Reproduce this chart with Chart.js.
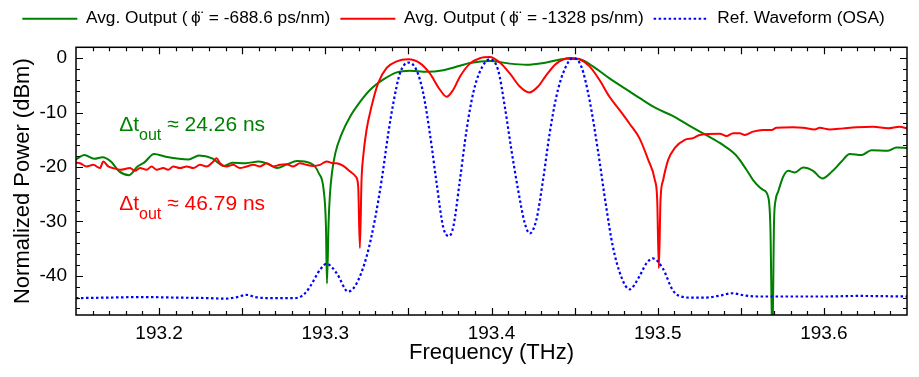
<!DOCTYPE html>
<html lang="en">

<head>
    <meta charset="UTF-8">
    <title>Normalized Power vs Frequency</title>
    <style>
        body { margin: 0; background: #fff; }
        #wrap { width: 919px; height: 377px; }
    </style>
</head>

<body>
    <div id="wrap"><canvas id="chartCanvas" width="919" height="377"></canvas></div>

    <script src="https://cdn.jsdelivr.net/npm/chart.js"></script>
    <script>
        // --- data ---
        const freqGreen = [193.150, 193.155, 193.161, 193.166, 193.171, 193.176, 193.182, 193.187, 193.191, 193.197,
            193.204, 193.212, 193.218, 193.224, 193.232, 193.239, 193.244, 193.252, 193.260, 193.266,
            193.271, 193.277, 193.283, 193.291, 193.294, 193.296, 193.299, 193.3004, 193.301, 193.302,
            193.3028, 193.304, 193.306, 193.310, 193.315, 193.321, 193.327, 193.335, 193.343, 193.351,
            193.361, 193.371, 193.381, 193.387, 193.399, 193.411, 193.421, 193.433, 193.445, 193.453,
            193.461, 193.471, 193.483, 193.489, 193.499, 193.509, 193.519, 193.529, 193.539, 193.547,
            193.5534, 193.5574, 193.5634, 193.5664, 193.5678, 193.569, 193.570, 193.571, 193.5725, 193.5755,
            193.5785, 193.5825, 193.5875, 193.5935, 193.599, 193.605, 193.6106, 193.6156, 193.6226, 193.6286,
            193.6386, 193.6436, 193.650];
        const powerGreen = [-18.6, -17.8, -18.5, -18.2, -19.0, -20.8, -21.5, -19.9, -19.2, -17.6,
            -18.1, -18.5, -18.6, -17.9, -18.4, -19.8, -19.2, -19.3, -19.0, -19.5,
            -20.2, -19.5, -18.9, -19.3, -20.0, -21.1, -24.2, -31.0, -41.4, -30.0,
            -25.0, -21.1, -17.5, -13.8, -10.7, -8.0, -5.8, -3.9, -2.6, -2.3,
            -2.5, -2.2, -1.4, -0.9, -0.5, -1.0, -1.2, -0.8, -0.1, -0.2,
            -1.5, -3.7, -6.1, -7.3, -9.2, -10.6, -12.4, -14.1, -15.9, -17.8,
            -20.5, -22.4, -24.2, -25.4, -31.0, -52.0, -30.0, -26.0, -24.5, -21.8,
            -20.7, -21.0, -20.1, -20.7, -22.1, -20.8, -19.0, -17.6, -17.8, -16.9,
            -17.0, -16.4, -16.5];

        const freqRed = [193.1500, 193.1524, 193.1564, 193.1604, 193.1644, 193.1664, 193.1694, 193.1724, 193.1765, 193.1825,
            193.1855, 193.1885, 193.1925, 193.1955, 193.1985, 193.2025, 193.2055, 193.2085, 193.2126, 193.2166,
            193.2206, 193.2246, 193.2286, 193.2326, 193.2346, 193.2366, 193.2406, 193.2446, 193.2486, 193.2527,
            193.2567, 193.2607, 193.2647, 193.2687, 193.2727, 193.2767, 193.2807, 193.2847, 193.2888, 193.2927,
            193.2968, 193.3008, 193.3048, 193.3068, 193.3108, 193.3148, 193.3184, 193.3198, 193.3208, 193.3218,
            193.3228, 193.3248, 193.3278, 193.3318, 193.3369, 193.3429, 193.3499, 193.3569, 193.3629, 193.3690,
            193.3730, 193.3770, 193.3810, 193.3870, 193.3930, 193.3990, 193.4050, 193.4110, 193.4170, 193.4227,
            193.4280, 193.4330, 193.4390, 193.4470, 193.4530, 193.4590, 193.4650, 193.4710, 193.4770, 193.4830,
            193.4890, 193.4943, 193.4983, 193.4997, 193.5007, 193.5017, 193.5033, 193.5063, 193.5103, 193.5163,
            193.5213, 193.5253, 193.5374, 193.5414, 193.5454, 193.5494, 193.5524, 193.5574, 193.5634, 193.5685,
            193.5715, 193.5815, 193.5875, 193.5945, 193.5975, 193.6035, 193.6116, 193.6196, 193.6296, 193.6386,
            193.6456, 193.6500];
        const powerRed = [-19.2, -19.3, -19.9, -19.6, -20.2, -19.0, -19.9, -20.2, -20.5, -20.2,
            -20.7, -20.2, -20.5, -19.9, -20.5, -20.2, -20.5, -19.9, -20.2, -19.9,
            -20.2, -19.6, -19.9, -19.0, -18.4, -19.3, -19.9, -19.6, -20.2, -19.9,
            -19.6, -19.9, -19.3, -19.9, -19.6, -19.5, -19.9, -19.3, -19.6, -19.8,
            -19.6, -19.0, -19.3, -19.3, -19.8, -20.8, -21.8, -23.6, -34.9, -22.4,
            -18.1, -13.2, -8.9, -4.6, -1.8, -0.6, -0.2, -0.9, -2.8, -5.8,
            -7.1, -5.8, -3.4, -1.0, 0.0, 0.2, -0.8, -2.8, -5.2, -6.3,
            -5.2, -3.1, -1.0, 0.05, -0.2, -1.5, -4.0, -7.1, -9.5, -12.0,
            -14.7, -18.7, -22.4, -26.0, -38.6, -26.0, -22.4, -18.7, -16.5, -15.0,
            -14.7, -14.1, -13.9, -14.3, -13.8, -13.8, -14.1, -13.5, -13.2, -13.2,
            -12.8, -12.7, -12.8, -13.1, -12.8, -13.1, -12.9, -12.7, -12.6, -12.9,
            -12.6, -12.9];

        const freqRef = [193.150, 193.170, 193.190, 193.210, 193.230, 193.240, 193.247, 193.2527, 193.258, 193.265,
            193.280, 193.2847, 193.2878, 193.2908, 193.2968, 193.3008, 193.3068, 193.3138, 193.3188, 193.3248,
            193.3298, 193.3339, 193.3379, 193.3409, 193.3449, 193.3499, 193.3549, 193.3589, 193.3629, 193.3670,
            193.3709, 193.3744, 193.3770, 193.381, 193.385, 193.389, 193.393, 193.399, 193.404, 193.408,
            193.412, 193.416, 193.420, 193.423, 193.427, 193.431, 193.435, 193.439, 193.443, 193.449,
            193.454, 193.459, 193.464, 193.469, 193.473, 193.478, 193.483, 193.489, 193.493, 193.497,
            193.503, 193.509, 193.513, 193.520, 193.529, 193.538, 193.545, 193.552, 193.560, 193.600,
            193.620, 193.650];
        const powerRef = [-44.1, -44.0, -43.9, -44.0, -44.1, -44.2, -43.9, -43.5, -43.9, -44.1,
            -44.1, -43.9, -43.2, -42.0, -38.9, -37.8, -39.5, -42.9, -41.4, -36.5,
            -29.7, -22.4, -13.8, -8.3, -2.8, -0.8, -2.2, -6.4, -13.8, -23.0,
            -31.0, -32.7, -31.0, -22.4, -13.2, -6.4, -2.5, -0.2, -2.2, -8.9,
            -16.9, -24.2, -30.3, -32.2, -29.7, -22.4, -13.8, -7.1, -2.8, 0.0,
            -1.5, -7.7, -16.9, -27.3, -34.6, -40.1, -42.5, -40.1, -37.8, -36.8,
            -38.6, -42.6, -43.7, -44.0, -44.0, -43.6, -43.2, -43.6, -43.8, -43.8,
            -43.7, -43.8];

        const seriesLabels = [
            'Avg. Output (\u2009\u03D5\u0308\u2009 = -688.6 ps/nm)',
            'Avg. Output (\u2009\u03D5\u0308\u2009 = -1328 ps/nm)',
            'Ref. Waveform (OSA)'
        ];
        const xTickValues = [193.2, 193.3, 193.4, 193.5, 193.6];
        const yTickValues = [-40, -30, -20, -10, 0];
        const xRange = [193.15, 193.65];
        const yRange = [-47.2, 2];

        // annotation text: [freq, power, value text, colour]
        const notes = [
            [193.176, -13.4, ' \u2248 24.26 ns', '#008000'],
            [193.176, -27.9, ' \u2248 46.79 ns', '#ff0000']
        ];

        const FONT = "'Liberation Sans', Arial, sans-serif";
        const pts = (xs, ys) => xs.map((f, i) => ({ x: f, y: ys[i] }));

        // inward ticks on all four sides + frame, and the Δt labels
        const framePlugin = {
            id: 'frame',
            afterDatasetsDraw(chart) {
                const { ctx, chartArea: a, scales: { x, y } } = chart;
                ctx.save();
                ctx.strokeStyle = '#000';
                ctx.lineWidth = 1.2;
                ctx.beginPath();
                for (let i = 1; i < 50; i++) {
                    const px = Math.round(x.getPixelForValue(xRange[0] + i / 100)) + 0.5;
                    const len = i % 5 === 0 ? 7 : 4;
                    ctx.moveTo(px, a.bottom); ctx.lineTo(px, a.bottom - len);
                    ctx.moveTo(px, a.top); ctx.lineTo(px, a.top + len);
                }
                for (let v = -46; v <= 2; v += 2) {
                    const py = Math.round(y.getPixelForValue(v)) + 0.5;
                    const len = v % 10 === 0 ? 7 : 4;
                    ctx.moveTo(a.left, py); ctx.lineTo(a.left + len, py);
                    ctx.moveTo(a.right, py); ctx.lineTo(a.right - len, py);
                }
                ctx.stroke();
                ctx.lineWidth = 1.5;
                ctx.strokeRect(a.left, a.top, a.right - a.left, a.bottom - a.top);

                ctx.textBaseline = 'alphabetic';
                ctx.textAlign = 'left';
                notes.forEach(([f, p, txt, col]) => {
                    let px = x.getPixelForValue(f);
                    const py = y.getPixelForValue(p);
                    ctx.fillStyle = col;
                    ctx.font = '21px ' + FONT;
                    ctx.fillText('\u0394t', px, py);
                    px += ctx.measureText('\u0394t').width;
                    ctx.font = '16px ' + FONT;
                    ctx.fillText('out', px, py + 9);
                    px += ctx.measureText('out').width;
                    ctx.font = '21px ' + FONT;
                    ctx.fillText(txt, px, py);
                });
                ctx.restore();
            }
        };

        const ctx = document.getElementById('chartCanvas').getContext('2d');
        const chart = new Chart(ctx, {
            type: 'line',
            data: {
                // drawn back to front: green, red, then dotted reference on top
                datasets: [{
                    label: seriesLabels[2],
                    data: pts(freqRef, powerRef),
                    borderColor: '#0000ff',
                    borderWidth: 2.2,
                    borderDash: [2.5, 2.5],
                    pointRadius: 0,
                    cubicInterpolationMode: 'monotone'
                }, {
                    label: seriesLabels[1],
                    data: pts(freqRed, powerRed),
                    borderColor: '#ff0000',
                    borderWidth: 2,
                    pointRadius: 0,
                    cubicInterpolationMode: 'monotone'
                }, {
                    label: seriesLabels[0],
                    data: pts(freqGreen, powerGreen),
                    borderColor: '#008000',
                    borderWidth: 2,
                    pointRadius: 0,
                    cubicInterpolationMode: 'monotone'
                }]
            },
            options: {
                responsive: false,
                animation: false,
                layout: { padding: { right: 12 } },
                plugins: {
                    tooltip: { enabled: false },
                    legend: {
                        position: 'top',
                        labels: {
                            usePointStyle: true,
                            pointStyle: 'line',
                            pointStyleWidth: 55,
                            padding: 10,
                            color: '#000',
                            font: { family: FONT, size: 17.3 },
                            sort: (a, b) => b.datasetIndex - a.datasetIndex,
                            generateLabels: c => Chart.defaults.plugins.legend.labels.generateLabels(c).map(l => {
                                const ds = c.data.datasets[l.datasetIndex];
                                return { ...l, lineWidth: 2, strokeStyle: ds.borderColor, lineDash: ds.borderDash || [] };
                            })
                        }
                    }
                },
                scales: {
                    x: {
                        type: 'linear',
                        position: 'bottom',
                        min: xRange[0],
                        max: xRange[1],
                        grid: { display: false, drawTicks: false },
                        border: { display: false },
                        afterBuildTicks: s => { s.ticks = xTickValues.map(v => ({ value: v })); },
                        afterFit: s => { s.height = 62; },
                        ticks: {
                            padding: 7,
                            color: '#000',
                            font: { family: FONT, size: 19 },
                            callback: v => v.toFixed(1)
                        },
                        title: {
                            display: true,
                            text: 'Frequency (THz)',
                            color: '#000',
                            font: { family: FONT, size: 22 },
                            padding: { top: 0, bottom: 11 }
                        }
                    },
                    xTop: {
                        type: 'linear',
                        position: 'top',
                        min: xRange[0],
                        max: xRange[1],
                        grid: { display: false, drawTicks: false },
                        border: { display: false },
                        ticks: { display: false },
                        afterFit: s => { s.height = 10; }
                    },
                    y: {
                        min: yRange[0],
                        max: yRange[1],
                        grid: { display: false, drawTicks: false },
                        border: { display: false },
                        afterBuildTicks: s => { s.ticks = yTickValues.map(v => ({ value: v })); },
                        afterFit: s => { s.width = 76; },
                        ticks: {
                            padding: 9,
                            color: '#000',
                            font: { family: FONT, size: 19 }
                        },
                        title: {
                            display: true,
                            text: 'Normalized Power (dBm)',
                            color: '#000',
                            font: { family: FONT, size: 22 },
                            padding: { top: 10, bottom: 0 }
                        }
                    }
                }
            },
            plugins: [framePlugin]
        });
    </script>
</body>

</html>
